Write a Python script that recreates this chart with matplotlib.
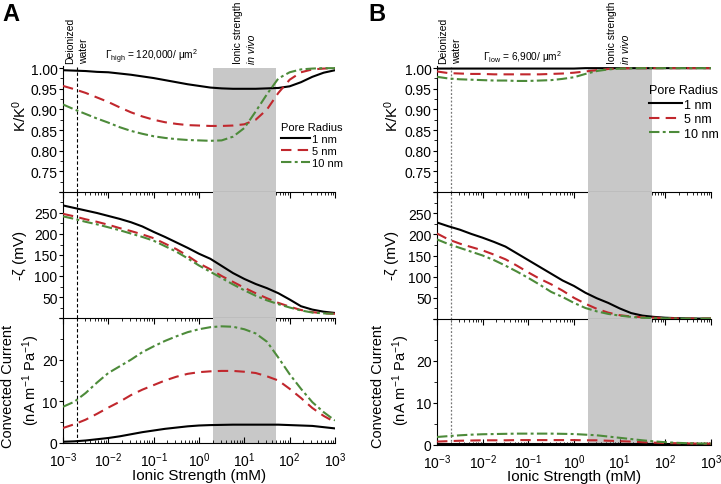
import matplotlib
matplotlib.use('Agg')
import matplotlib.pyplot as plt
from matplotlib.ticker import MultipleLocator, LogLocator, NullFormatter

plt.rcParams['font.family'] = ['Liberation Sans', 'DejaVu Sans']
plt.rcParams['mathtext.fontset'] = 'custom'
plt.rcParams['mathtext.rm'] = 'Liberation Sans'
plt.rcParams['mathtext.it'] = 'Liberation Sans:italic'
plt.rcParams['mathtext.default'] = 'regular'

# log10 of ionic strength (mM)
log_is = [-3, -2.75, -2.5, -2.25, -2, -1.75, -1.5, -1.25, -1, -0.75, -0.5, -0.25, 0,
          0.25, 0.5, 0.75, 1, 1.25, 1.5, 1.75, 2, 2.25, 2.5, 2.75, 3]
ionic = [10 ** v for v in log_is]

radii = ['1 nm', '5 nm', '10 nm']

# panel A, Gamma high
a_k_1 = [0.995, 0.994, 0.993, 0.991, 0.990, 0.987, 0.984, 0.980, 0.976, 0.971, 0.966, 0.961, 0.957,
         0.953, 0.951, 0.950, 0.950, 0.950, 0.951, 0.952, 0.956, 0.966, 0.979, 0.989, 0.995]
a_k_5 = [0.957, 0.949, 0.940, 0.929, 0.918, 0.905, 0.893, 0.883, 0.875, 0.869, 0.865, 0.862, 0.861,
         0.860, 0.860, 0.861, 0.864, 0.875, 0.900, 0.940, 0.972, 0.990, 0.997, 0.999, 1.000]
a_k_10 = [0.912, 0.900, 0.889, 0.878, 0.868, 0.857, 0.848, 0.841, 0.835, 0.831, 0.828, 0.826, 0.825,
          0.824, 0.825, 0.834, 0.855, 0.895, 0.937, 0.975, 0.990, 0.997, 0.999, 1.000, 1.000]
a_z_1 = [268, 262, 256, 250, 243, 236, 228, 218, 205, 193, 180, 167, 153,
         141, 124, 107, 93, 81, 71, 59, 44, 28, 20, 15, 12]
a_z_5 = [248, 242, 235, 229, 222, 214, 207, 199, 190, 177, 164, 148, 130,
         116, 100, 86, 72, 59, 47, 36, 27, 19, 14, 11, 10]
a_z_10 = [242, 236, 229, 223, 216, 209, 201, 193, 184, 171, 158, 142, 125,
          110, 95, 80, 66, 53, 42, 33, 25, 18, 13, 11, 10]
a_c_1 = [0.3, 0.4, 0.6, 0.9, 1.2, 1.6, 2.1, 2.6, 3.0, 3.4, 3.7, 4.0, 4.2,
         4.3, 4.35, 4.4, 4.4, 4.4, 4.4, 4.4, 4.3, 4.2, 4.1, 3.8, 3.5]
a_c_5 = [3.6, 4.5, 5.6, 7.0, 8.5, 9.9, 11.5, 12.8, 13.9, 15.0, 15.9, 16.6, 17.0,
         17.2, 17.3, 17.3, 17.1, 16.8, 16.0, 15.0, 13.0, 10.8, 8.4, 6.5, 5.0]
a_c_10 = [8.7, 9.9, 12.0, 14.5, 16.8, 18.4, 20.0, 21.8, 23.2, 24.5, 25.6, 26.6, 27.3,
          27.8, 28.0, 27.9, 27.3, 26.3, 24.3, 20.5, 16.5, 13.0, 9.8, 7.4, 5.4]

# panel B, Gamma low
b_k_1 = [0.999, 0.999, 0.999, 0.999, 0.999, 0.999, 0.999, 0.999, 0.999, 0.999, 0.999, 0.999, 0.999,
         1.0, 1.0, 1.0, 1.0, 1.0, 1.0, 1.0, 1.0, 1.0, 1.0, 1.0, 1.0]
b_k_5 = [0.992, 0.988, 0.987, 0.986, 0.986, 0.985, 0.985, 0.985, 0.985, 0.985, 0.986, 0.987, 0.989,
         0.992, 0.995, 0.998, 0.999, 1.0, 1.0, 1.0, 1.0, 1.0, 1.0, 1.0, 1.0]
b_k_10 = [0.979, 0.975, 0.973, 0.972, 0.971, 0.970, 0.970, 0.969, 0.969, 0.970, 0.971, 0.974, 0.978,
          0.986, 0.993, 0.997, 0.999, 0.9995, 1.0, 1.0, 1.0, 1.0, 1.0, 1.0, 1.0]
b_z_1 = [228, 219, 211, 201, 192, 182, 171, 155, 139, 123, 107, 91, 78,
         62, 49, 38, 25, 14, 8, 5, 3, 2, 1.5, 1, 1]
b_z_5 = [202, 188, 178, 170, 162, 152, 141, 126, 110, 95, 82, 67, 50,
         36, 24, 15, 9, 6, 4, 3, 2, 1.5, 1, 1, 1]
b_z_10 = [188, 177, 168, 159, 150, 139, 126, 112, 97, 81, 64, 52, 38,
          26, 18, 12, 8, 5, 3, 2, 1.5, 1, 1, 1, 1]
b_c_1 = [0.05] * 25
b_c_5 = [0.7, 0.8, 0.9, 0.95, 1.0, 1.0, 1.0, 1.05, 1.05, 1.05, 1.05, 1.05, 1.05,
         1.0, 1.0, 0.9, 0.8, 0.7, 0.55, 0.45, 0.35, 0.3, 0.25, 0.2, 0.2]
b_c_10 = [1.8, 2.0, 2.2, 2.35, 2.45, 2.5, 2.55, 2.6, 2.6, 2.6, 2.6, 2.55, 2.5,
          2.35, 2.2, 1.9, 1.6, 1.3, 1.0, 0.75, 0.55, 0.4, 0.3, 0.25, 0.2]

W, H = 721, 485
RED = '#c1272d'
GREEN = '#4d8b3a'
BAND = '#c8c8c8'
K_LIM = (0.70, 1.004)

fig = plt.figure(figsize=(7.21, 4.85), dpi=100)


def box(x0, x1, y0, y1):
    # pixel box -> figure fraction
    return [x0 / W, 1 - y1 / H, (x1 - x0) / W, (y1 - y0) / H]


def draw_column(x0, x1, ys, k, z, c, vline_style, legend_anchor, legend_size):
    axes = [fig.add_axes(box(x0, x1, ys[0], ys[1])),
            fig.add_axes(box(x0, x1, ys[1], ys[2])),
            fig.add_axes(box(x0, x1, ys[2], ys[3]))]
    sets = [k, z, c]
    for i, ax in enumerate(axes):
        ax.set_xscale('log')
        ax.set_xlim(1e-3, 1e3)
        # grey band stops at 1.00 in the top panel
        top = (1.0 - K_LIM[0]) / (K_LIM[1] - K_LIM[0]) if i == 0 else 1
        ax.axvspan(2, 50, ymax=top, color=BAND, lw=0, zorder=0)
        ax.axvline(0.002, **vline_style, zorder=1)
        s = sets[i]
        ax.plot(ionic, s[0], color='black', lw=1.5, label=radii[0], zorder=3)
        ax.plot(ionic, s[1], color=RED, lw=1.5, dashes=(5, 3), label=radii[1], zorder=3)
        ax.plot(ionic, s[2], color=GREEN, lw=1.5, dashes=(5, 1.6, 1.4, 1.6), label=radii[2], zorder=3)
        ax.spines['top'].set_visible(False)
        ax.spines['right'].set_visible(False)
        ax.xaxis.set_major_locator(LogLocator(base=10, numticks=10))
        ax.xaxis.set_minor_locator(LogLocator(base=10, subs=range(2, 10), numticks=10))
        ax.xaxis.set_minor_formatter(NullFormatter())
        ax.tick_params(axis='y', which='major', direction='out', length=3, width=0.8,
                       labelsize=10, pad=1)
        ax.tick_params(axis='y', which='minor', direction='out', length=2, width=0.6)
        if i < 2:
            ax.tick_params(axis='x', which='major', direction='out', length=4, width=0.8,
                           labelbottom=False)
            ax.tick_params(axis='x', which='minor', direction='out', length=2.5, width=0.6)
        else:
            ax.tick_params(axis='x', which='major', direction='in', length=4, width=0.8,
                           labelsize=10, pad=5.5)
            ax.tick_params(axis='x', which='minor', direction='in', length=2.5, width=0.6)
            ax.set_xlabel('Ionic Strength (mM)', fontsize=11, labelpad=-1)
        ax.patch.set_alpha(0)

    # K/K0
    ax = axes[0]
    ax.set_ylim(*K_LIM)
    ax.set_yticks([0.70, 0.75, 0.80, 0.85, 0.90, 0.95, 1.00])
    ax.set_yticklabels(['', '0.75', '0.80', '0.85', '0.90', '0.95', '1.00'])
    ax.yaxis.set_minor_locator(MultipleLocator(0.025))
    ax.legend(title='Pore Radius', frameon=False, fontsize=legend_size, title_fontsize=legend_size,
              handlelength=2.6, handletextpad=0.2, labelspacing=0.2, borderpad=0,
              borderaxespad=0, alignment='left', loc='upper right',
              bbox_to_anchor=legend_anchor)
    # zeta potential
    ax = axes[1]
    ax.set_ylim(0, 300)
    ax.set_yticks([0, 50, 100, 150, 200, 250, 300])
    ax.set_yticklabels(['', '50', '100', '150', '200', '250', ''])
    ax.yaxis.set_minor_locator(MultipleLocator(25))
    # convected current
    ax = axes[2]
    ax.set_ylim(0, 30)
    ax.set_yticks([0, 10, 20, 30])
    ax.set_yticklabels(['0', '10', '20', ''])
    ax.yaxis.set_minor_locator(MultipleLocator(5))
    return axes


ys_a = [67.5, 193, 319, 444]
ys_b = [67.5, 193, 320, 445.5]
axA = draw_column(63, 335, ys_a, [a_k_1, a_k_5, a_k_10], [a_z_1, a_z_5, a_z_10],
                  [a_c_1, a_c_5, a_c_10],
                  dict(color='black', lw=0.8, dashes=(3, 2)), (1.03, 0.56), 8)
axB = draw_column(437, 711, ys_b, [b_k_1, b_k_5, b_k_10], [b_z_1, b_z_5, b_z_10],
                  [b_c_1, b_c_5, b_c_10],
                  dict(color='#777777', lw=0.9, dashes=(1.5, 1.5)), (1.03, 0.86), 9)


def ftext(x, y, s, **kw):
    fig.text(x / W, 1 - y / H, s, **kw)


# panel letters
ftext(2, 3, 'A', fontsize=17, fontweight='bold', va='top')
ftext(368, 3, 'B', fontsize=17, fontweight='bold', va='top')

# y axis labels
for dx, cc_x, na_x in [(0, 8, 31), (372, 378, 401)]:
    ftext(20 + dx, 116, 'K/K$^0$', fontsize=11, rotation=90, ha='center', va='center')
    ftext(20 + dx, 255, '-ζ (mV)', fontsize=11, rotation=90, ha='center', va='center')
    ftext(cc_x, 386, 'Convected Current', fontsize=10.5, rotation=90, ha='center', va='center')
    ftext(na_x, 380, '(nA m$^{-1}$ Pa$^{-1}$)', fontsize=10.5, rotation=90, ha='center', va='center')

# annotations above the top panels
ann = [(70, 'Deionized', 'normal'), (84, 'water', 'normal'),
       (238, 'Ionic strength', 'normal'), (252, 'in vivo', 'italic'),
       (443, 'Deionized', 'normal'), (457, 'water', 'normal'),
       (612, 'Ionic strength', 'normal'), (626, 'in vivo', 'italic')]
for x, s, st in ann:
    ftext(x, 64, s, fontsize=7.5, rotation=90, ha='center', va='bottom', style=st)

ftext(105, 57, r'$\Gamma_{high}$ = 120,000/ μm$^2$', fontsize=7.3, va='center')
ftext(483, 57, r'$\Gamma_{low}$ = 6,900/ μm$^2$', fontsize=7.3, va='center')

fig.savefig('out.png', dpi=100)
